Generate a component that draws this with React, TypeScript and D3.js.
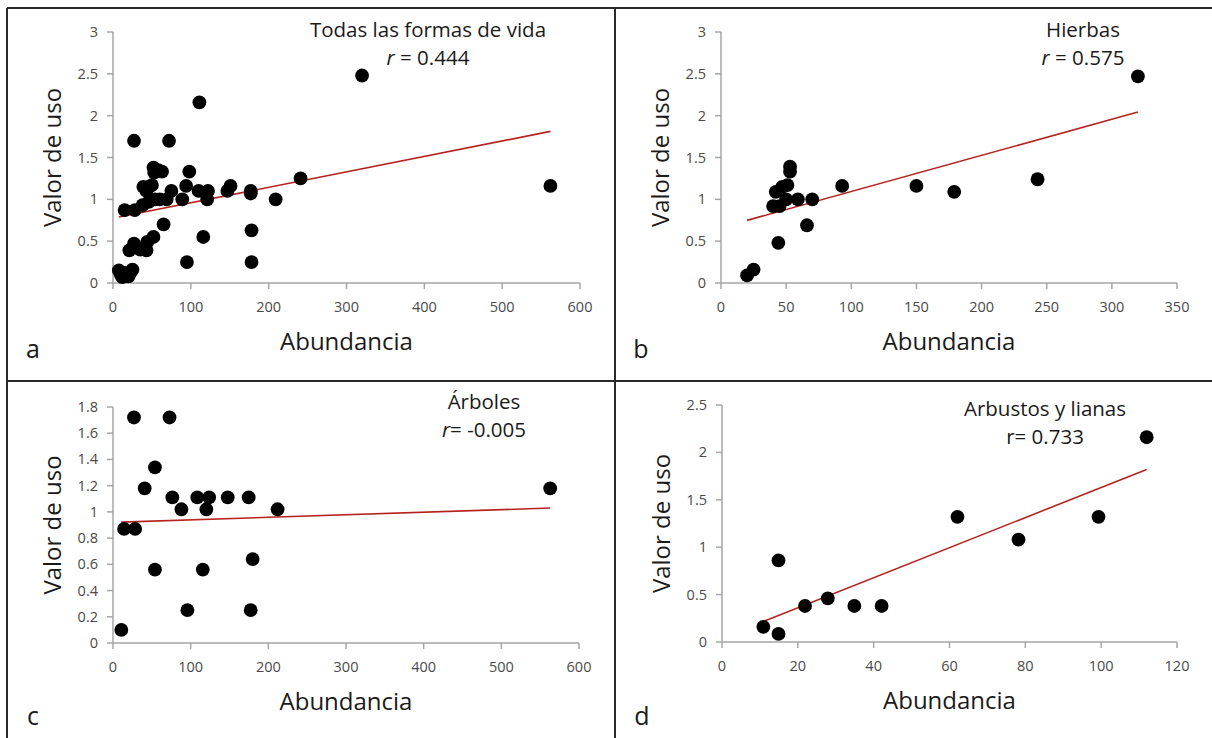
import React from "react";
import * as d3 from "d3";

// Abundancia vs valor de uso
const pointsA: [number, number][] = [
    [7.5, 0.15], [10, 0.1], [12, 0.07], [15, 0.12], [20, 0.08], [25, 0.16], [22, 0.12],
    [15, 0.87], [28, 0.87], [38, 0.93], [46, 0.97], [54, 1.0],
    [21, 0.39], [27, 0.47], [35, 0.4], [43, 0.39], [44, 0.49], [52, 0.55], [65, 0.7],
    [39, 1.15], [46, 1.15], [50, 1.17], [43, 1.1],
    [52, 1.38], [58, 1.35], [63, 1.33], [53, 1.32],
    [27, 1.7], [72, 1.7],
    [60, 1.0], [69, 1.0], [75, 1.1], [89, 1.0], [94, 1.16], [98, 1.33],
    [110, 1.1], [122, 1.1], [121, 1.0], [111, 2.16], [116, 0.55],
    [95, 0.25], [147, 1.1], [151, 1.16], [177, 1.1], [177, 1.07], [178, 0.63], [178, 0.25],
    [209, 1.0], [241, 1.25], [320, 2.48], [562, 1.16],
];

const pointsB: [number, number][] = [
    [20, 0.09], [25, 0.16], [44, 0.48], [66, 0.69], [40, 0.92], [45, 0.92], [42, 1.09],
    [47, 1.15], [51, 1.17], [50, 1.0], [53, 1.39], [53, 1.33], [59, 1.0], [70, 1.0],
    [93, 1.16], [150, 1.16], [179, 1.09], [243, 1.24], [320, 2.47],
];

const pointsC: [number, number][] = [
    [10.7, 0.1], [14.3, 0.87], [28.5, 0.87], [27, 1.72], [72.8, 1.72], [54, 1.34],
    [40.8, 1.18], [76.4, 1.11], [88.1, 1.02], [108.5, 1.11], [123.8, 1.11], [120.2, 1.02],
    [147.7, 1.11], [174.7, 1.11], [211.9, 1.02], [562.9, 1.18], [54, 0.56], [115.6, 0.56],
    [179.8, 0.64], [95.8, 0.25], [177.3, 0.25],
];

const pointsD: [number, number][] = [
    [10.9, 0.16], [14.9, 0.085], [14.9, 0.86], [21.9, 0.38], [27.9, 0.46], [34.9, 0.38],
    [42.1, 0.38], [62.1, 1.32], [78.2, 1.08], [99.3, 1.32], [112, 2.16],
];

// trend lines [intercept, slope]
const trendA = [0.774, 0.001847];
const trendB = [0.662, 0.004318];
const trendC = [0.92, 0.000194];
const trendD = [0.042, 0.01588];

const xTicks600 = [0, 100, 200, 300, 400, 500, 600];
const xTicks350 = [0, 50, 100, 150, 200, 250, 300, 350];
const xTicks120 = [0, 20, 40, 60, 80, 100, 120];
const yTicks3 = [0, 0.5, 1, 1.5, 2, 2.5, 3];
const yTicks18 = [0, 0.2, 0.4, 0.6, 0.8, 1, 1.2, 1.4, 1.6, 1.8];
const yTicks25 = [0, 0.5, 1, 1.5, 2, 2.5];

const FONT = "'Open Sans', sans-serif";
const fmt = (v: number) => String(+v.toFixed(1));

function Panel({ points, trend, xTicks, yTicks, x0, x1, y0, y1, letter, letterY, title, rLabel, rItalic, titleX, titleY }) {
    const x = d3.scaleLinear().domain([0, xTicks[xTicks.length - 1]]).range([x0, x1]);
    const y = d3.scaleLinear().domain([0, yTicks[yTicks.length - 1]]).range([y0, y1]);
    const [lo, hi] = d3.extent(points, d => d[0]) as [number, number];
    const line = d3.line<number>().x(v => x(v)).y(v => y(trend[0] + trend[1] * v));

    const cx = (x0 + x1) / 2;
    const cy = (y0 + y1) / 2;
    const axisColor = "#a6a6a6";

    return (
        <g>
            {/* axes */}
            <line x1={x0} x2={x1} y1={y0} y2={y0} stroke={axisColor} strokeWidth={1.5} />
            <line x1={x0} x2={x0} y1={y0} y2={y1} stroke={axisColor} strokeWidth={1.5} />
            {xTicks.map(t => (
                <g key={"x" + t}>
                    <line x1={x(t)} x2={x(t)} y1={y0} y2={y0 + 6} stroke={axisColor} strokeWidth={1.5} />
                    <text x={x(t)} y={y0 + 29} textAnchor="middle" fontSize={14.5} fill="#4a4a4a" fontFamily={FONT}>{fmt(t)}</text>
                </g>
            ))}
            {yTicks.map(t => (
                <g key={"y" + t}>
                    <line x1={x0 - 6} x2={x0} y1={y(t)} y2={y(t)} stroke={axisColor} strokeWidth={1.5} />
                    <text x={x0 - 15} y={y(t) + 5} textAnchor="end" fontSize={14.5} fill="#4a4a4a" fontFamily={FONT}>{fmt(t)}</text>
                </g>
            ))}

            {/* trend */}
            <path d={line([lo, hi]) || ""} stroke="#b5231f" strokeWidth={1.6} fill="none" />

            {/* points */}
            <g filter="url(#soft)">
                {points.map((p, i) => (
                    <circle key={i} cx={x(p[0])} cy={y(p[1])} r={6.9} fill="#000" />
                ))}
            </g>

            {/* labels */}
            <text x={cx} y={y0 + 67} textAnchor="middle" fontSize={24} fill="#1a1a1a" fontFamily={FONT}>Abundancia</text>
            <text transform={`translate(${x0 - 52},${cy}) rotate(-90)`} textAnchor="middle" fontSize={24} fill="#1a1a1a" fontFamily={FONT}>Valor de uso</text>
            <text x={titleX} y={titleY} textAnchor="middle" fontSize={20.5} fill="#1a1a1a" fontFamily={FONT}>{title}</text>
            <text x={titleX} y={titleY + 28} textAnchor="middle" fontSize={20.5} fill="#1a1a1a" fontFamily={FONT}>
                <tspan fontStyle={rItalic ? "italic" : "normal"}>r</tspan>{rLabel}
            </text>
            <text x={x0 - 80} y={letterY} textAnchor="middle" fontSize={25} fill="#1a1a1a" fontFamily={FONT}>{letter}</text>
        </g>
    );
}

export default function App() {
    const W = 1212;
    const H = 738;
    return (
        <svg width={W} height={H} style={{ position: "absolute", left: 0, top: 0, background: "#fff" }}>
            <defs>
                <filter id="soft" x="-10%" y="-10%" width="120%" height="120%">
                    <feGaussianBlur stdDeviation={0.6} />
                </filter>
            </defs>
            <rect x={0} y={0} width={W} height={H} fill="#fff" />

            <Panel points={pointsA} trend={trendA} xTicks={xTicks600} yTicks={yTicks3}
                   x0={113} x1={580} y0={283} y1={32} letter="a" letterY={358}
                   title="Todas las formas de vida" rLabel=" = 0.444" rItalic titleX={428} titleY={37} />
            <Panel points={pointsB} trend={trendB} xTicks={xTicks350} yTicks={yTicks3}
                   x0={721} x1={1177} y0={283} y1={32} letter="b" letterY={358}
                   title="Hierbas" rLabel=" = 0.575" rItalic titleX={1083} titleY={37} />
            <Panel points={pointsC} trend={trendC} xTicks={xTicks600} yTicks={yTicks18}
                   x0={113} x1={579} y0={643} y1={407} letter="c" letterY={725}
                   title="Árboles" rLabel="= -0.005" rItalic titleX={484} titleY={409} />
            <Panel points={pointsD} trend={trendD} xTicks={xTicks120} yTicks={yTicks25}
                   x0={722} x1={1177} y0={642} y1={405} letter="d" letterY={725}
                   title="Arbustos y lianas" rLabel="= 0.733" rItalic={false} titleX={1045} titleY={416} />

            {/* frame */}
            <g stroke="#2a2a2a" strokeWidth={2}>
                <line x1={7} x2={W} y1={8} y2={8} />
                <line x1={7} x2={7} y1={8} y2={H} />
                <line x1={615} x2={615} y1={8} y2={H} />
                <line x1={7} x2={W} y1={381} y2={381} />
            </g>
        </svg>
    );
}
